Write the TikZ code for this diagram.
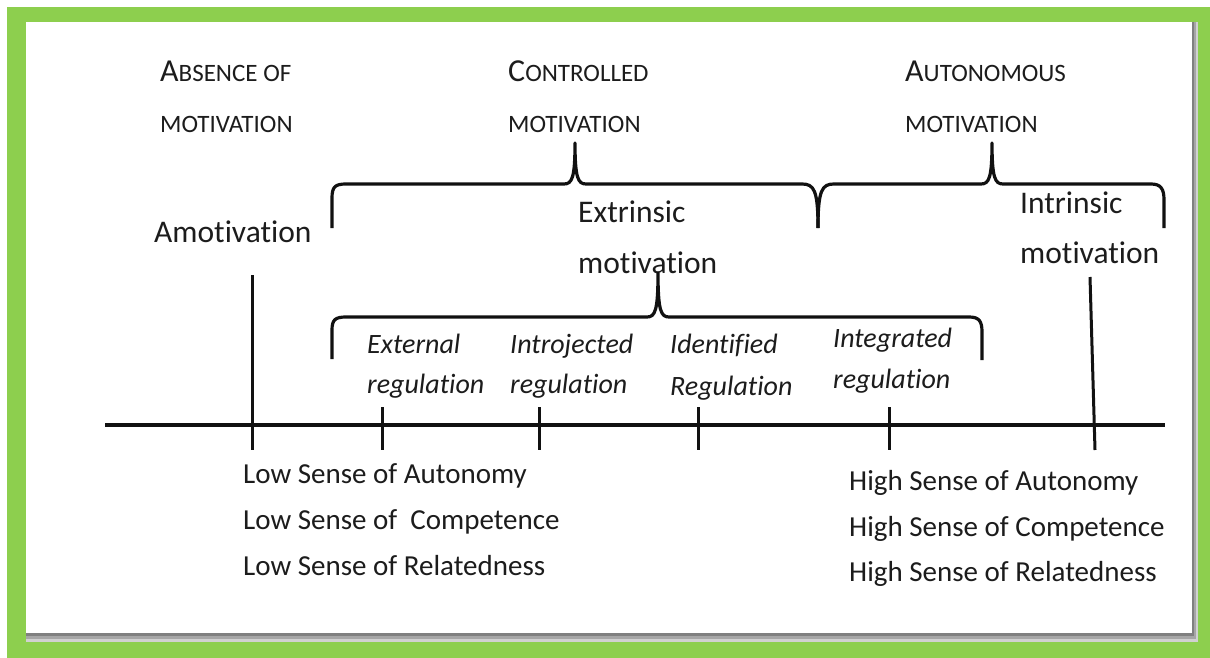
\documentclass[tikz,border=0pt]{standalone}
\usepackage{fontspec}
\setmainfont{Carlito}[Ligatures={NoCommon,NoRequired,NoContextual}]
\definecolor{grn}{HTML}{8DCF4E}
\definecolor{txt}{HTML}{1C1C1C}
\definecolor{ink}{HTML}{111111}
\newcommand\hdbig[1]{{\fontsize{32}{36}\selectfont #1}}
\newcommand\hdsmall[1]{{\fontsize{25}{28}\selectfont #1}}
\begin{document}
\begin{tikzpicture}[x=1pt,y=-1pt,
  lbl/.style={anchor=base west, inner sep=0pt, text=txt},
  head/.style={lbl},
  big/.style={lbl, font=\fontsize{31.5}{36}\selectfont},
  ital/.style={lbl, font=\fontsize{28}{32}\selectfont\itshape},
  sense/.style={lbl, font=\fontsize{29}{34}\selectfont},
  stroke/.style={draw=ink, line width=3.2pt},
  tick/.style={draw=ink, line width=3pt}]
\useasboundingbox (0,0) rectangle (1210,658);
\fill[white] (0,0) rectangle (1210,658);
\fill[grn] (7,7) rectangle (1210,658);
% panel shadow
\fill[black!18] (26,22) rectangle (1198,642);
\fill[black!35] (26,22) rectangle (1196,639);
\fill[black!50] (26,22) rectangle (1194,636);
\fill[white] (26,22) rectangle (1192,633);

% headings
\node[head] (abs1) at (160,82) {\hdbig{A}\hdsmall{BSENCE OF}};
\node[head] (abs2) at (160,132) {\hdsmall{MOTIVATION}};
\node[head] (con1) at (508,82) {\hdbig{C}\hdsmall{ONTROLLED}};
\node[head] (con2) at (508,132) {\hdsmall{MOTIVATION}};
\node[head] (aut1) at (905,82) {\hdbig{A}\hdsmall{UTONOMOUS}};
\node[head] (aut2) at (905,132) {\hdsmall{MOTIVATION}};

% main labels
\node[big] (amot) at (154,242) {Amotivation};
\node[big] (ext1) at (578,222) {Extrinsic};
\node[big] (ext2) at (578,273) {motivation};
\node[big] (int1) at (1020,213) {Intrinsic};
\node[big] (int2) at (1020,263) {motivation};

% regulation labels
\node[ital] (er1) at (367,353) {External};
\node[ital] (er2) at (367,393) {regulation};
\node[ital] (ir1) at (510,353) {Introjected};
\node[ital] (ir2) at (510,393) {regulation};
\node[ital] (dr1) at (670,353) {Identified};
\node[ital] (dr2) at (670,395) {Regulation};
\node[ital] (gr1) at (833,347) {Integrated};
\node[ital] (gr2) at (833,388) {regulation};

% sense labels
\node[sense] (low1) at (243,483) {Low Sense of Autonomy};
\node[sense] (low2) at (243,529) {Low Sense of~ Competence};
\node[sense] (low3) at (243,575) {Low Sense of Relatedness};
\node[sense] (high1) at (849,490) {High Sense of Autonomy};
\node[sense] (high2) at (849,536) {High Sense of Competence};
\node[sense] (high3) at (849,581) {High Sense of Relatedness};

% axis
\coordinate (axL) at (105,425);
\coordinate (axR) at (1165,425);
\draw[stroke] (axL) -- (axR);

% ticks
\coordinate (tA1) at (252,275);  \coordinate (tA2) at (252,450);
\coordinate (tE1) at (382,407);  \coordinate (tE2) at (382,450);
\coordinate (tI1) at (539,407);  \coordinate (tI2) at (539,450);
\coordinate (tD1) at (698,407);  \coordinate (tD2) at (698,450);
\coordinate (tG1) at (889,407);  \coordinate (tG2) at (889,450);
\coordinate (tN1) at (1090,277); \coordinate (tN2) at (1095,450);
\draw[tick] (tA1) -- (tA2);
\draw[tick] (tE1) -- (tE2);
\draw[tick] (tI1) -- (tI2);
\draw[tick] (tD1) -- (tD2);
\draw[tick] (tG1) -- (tG2);
\draw[tick] (tN1) -- (tN2);

% upper braces
\coordinate (b1L) at (332,228);
\coordinate (b1T) at (575,143);
\coordinate (bM) at (818,228);
\coordinate (b2T) at (992,143);
\coordinate (b2R) at (1164,228);
\draw[stroke, line join=round]
  (b1L) -- (332,198) .. controls (332,187) and (335,184) .. (346,184)
  -- (564,184) .. controls (572,184) and (575,178) .. (b1T)
  .. controls (575,178) and (578,184) .. (586,184)
  -- (802,184) .. controls (814,184) and (818,190) .. (bM);
\draw[stroke, line join=round]
  (bM) .. controls (818,190) and (822,184) .. (834,184)
  -- (981,184) .. controls (989,184) and (992,178) .. (b2T)
  .. controls (992,178) and (995,184) .. (1003,184)
  -- (1151,184) .. controls (1161,184) and (1164,189) .. (1164,200) -- (b2R);

% lower brace
\coordinate (b3L) at (332,359);
\coordinate (b3T) at (658,273);
\coordinate (b3R) at (982,360);
\draw[stroke, line join=round]
  (b3L) -- (332,330) .. controls (332,320) and (335,317) .. (346,317)
  -- (647,317) .. controls (655,317) and (658,311) .. (b3T)
  .. controls (658,311) and (661,317) .. (669,317)
  -- (969,317) .. controls (979,317) and (982,321) .. (982,332) -- (b3R);
\end{tikzpicture}
\end{document}
